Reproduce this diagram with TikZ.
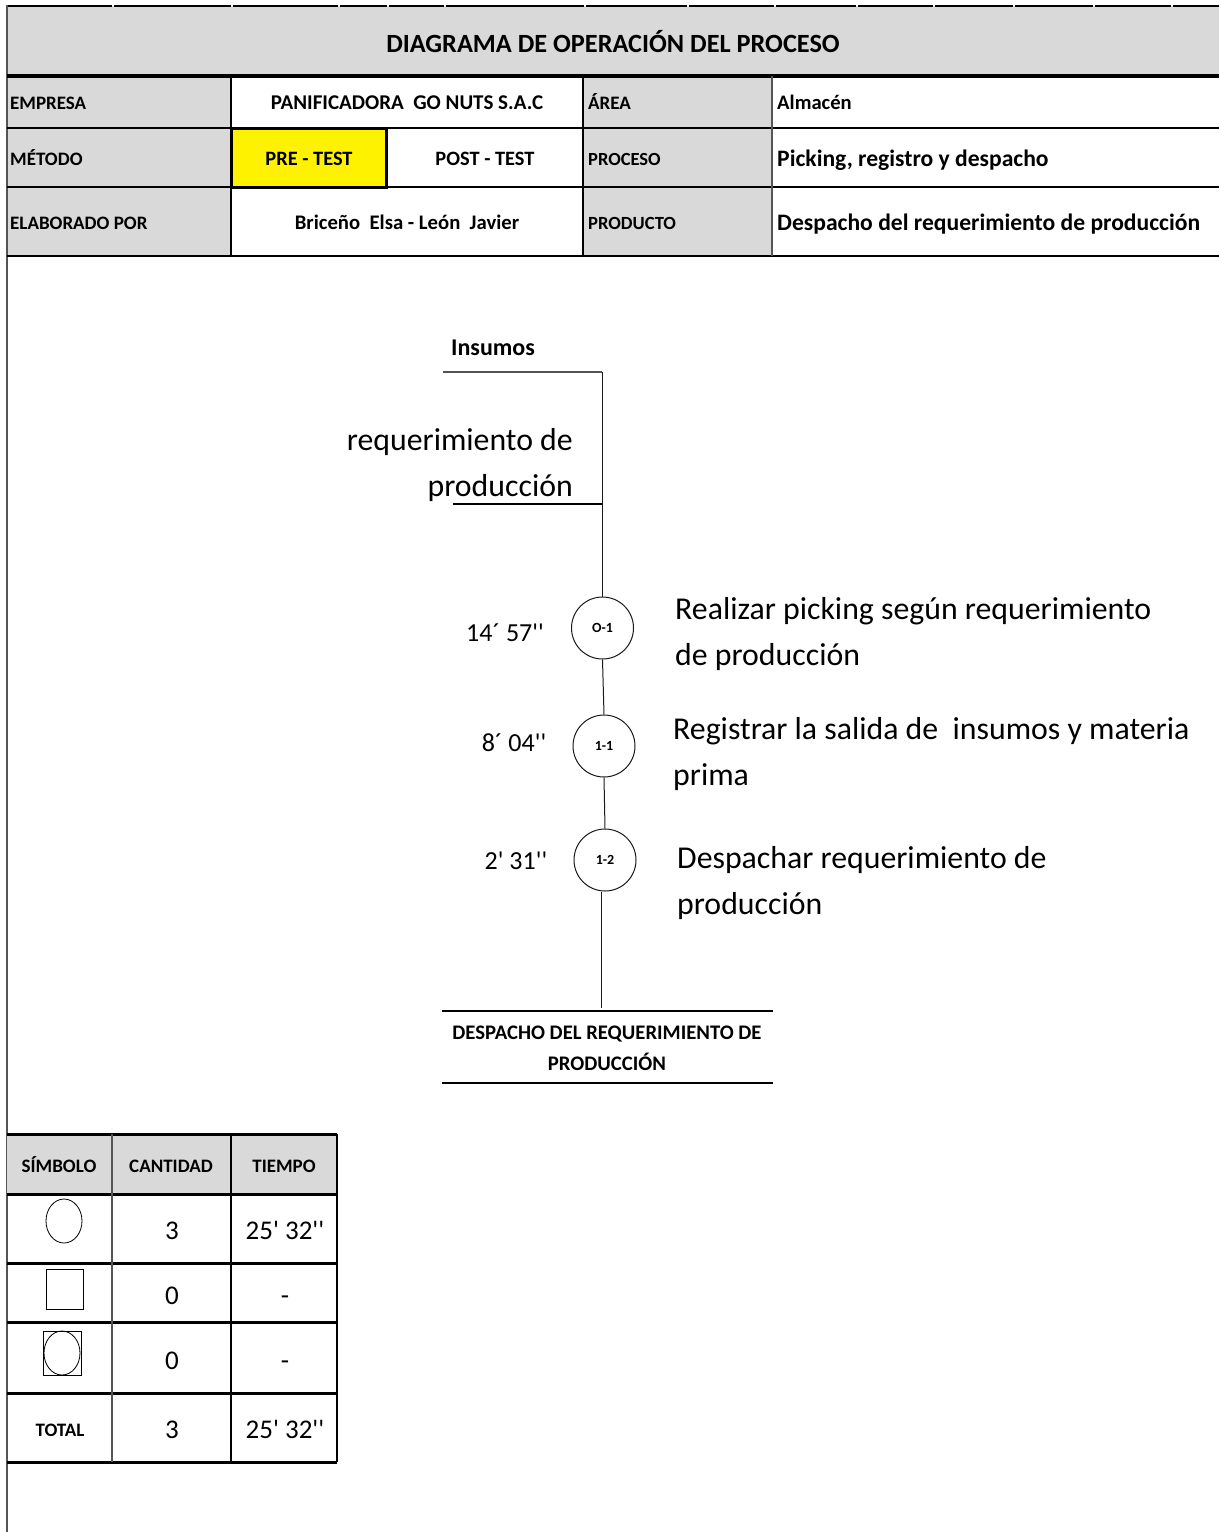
\documentclass[tikz,border=0pt]{standalone}
\usepackage{fontspec}
\setmainfont{Carlito}
% same face without the TeX quote ligatures, so ' stays a straight tick
\newfontfamily\rawcarlito{Carlito}
\definecolor{hdrgray}{HTML}{D9D9D9}
\definecolor{penline}{HTML}{1A1A1A}
\definecolor{softline}{HTML}{555555}
\tikzset{
  sized/.style={font={\fontsize{#1}{#1}\selectfont}},
  boldsized/.style={font={\fontsize{#1}{#1}\selectfont\bfseries}},
  lbl/.style={inner sep=0pt, anchor=base west, boldsized=#1},
  lbl/.default=19,
  val/.style={inner sep=0pt, anchor=base, boldsized=#1},
  val/.default=20.6,
  bigval/.style={inner sep=0pt, anchor=base west, boldsized=23.6},
  flowtxt/.style={inner sep=0pt, sized=31.8},
  timetxt/.style={inner sep=0pt, anchor=base, font={\fontsize{26}{26}\selectfont\rawcarlito}},
  opcircle/.style={circle, draw=penline, line width=1pt, minimum size=62pt, inner sep=0pt,
    boldsized=14},
  flowline/.style={draw=penline, line width=1pt},
  thickrule/.style={line width=3pt, black},
  midrule/.style={line width=2pt, black},
  tabtxt/.style={inner sep=0pt, anchor=base, font={\fontsize{27}{27}\selectfont\rawcarlito}},
  tabhead/.style={inner sep=0pt, anchor=base, boldsized=19},
}
\begin{document}
\begin{tikzpicture}[x=1pt, y=-1pt]
\useasboundingbox (0,0) rectangle (1219,1532);
\fill[white] (0,0) rectangle (1219,1532);

% ---------- header block ----------
\fill[hdrgray] (7,6) rectangle (1219,76);
\fill[hdrgray] (7,76) rectangle (231,256);
\fill[hdrgray] (583,76) rectangle (772,256);
\fill[yellow] (231,128) rectangle (386,187);

% top rule, broken at the cell joints
\foreach \a/\b in {7/112, 114/231, 233/338, 340/387, 389/444, 446/584, 586/687,
                   689/774, 776/856, 858/933, 935/1013, 1015/1093, 1095/1171, 1173/1219}
  \draw[line width=2pt, black] (\a,6) -- (\b,6);

% page border on the left
\draw[line width=1.3pt, softline] (7,5) -- (7,1532);

% horizontal rules of the header
\draw[line width=4pt, black] (7,76) -- (1219,76);
\draw[midrule] (7,128) -- (1219,128);
\draw[midrule] (7,187) -- (1219,187);
\draw[line width=2.5pt, black] (7,256) -- (1219,256);

% vertical rules of the header
\draw[midrule] (231,76) -- (231,256);
\draw[midrule] (583,76) -- (583,256);
\draw[line width=1.3pt, softline] (772,76) -- (772,256);
\draw[line width=3pt, black] (231,128) rectangle (386,187);

% header texts
\node[inner sep=0pt, anchor=base, boldsized=26.3] (title) at (613,52) {DIAGRAMA DE OPERACIÓN DEL PROCESO};

\node[lbl] (empresa) at (10,109) {EMPRESA};
\node[val=21] (empresaV) at (407,109) {PANIFICADORA\ \ GO NUTS S.A.C};
\node[lbl] (area) at (588,109) {ÁREA};
\node[lbl=20.6] (areaV) at (777,109) {Almacén};

\node[lbl] (metodo) at (10,165) {MÉTODO};
\node[val=20.4] (pre) at (309,165) {PRE - TEST};
\node[val=20.4] (post) at (485,165) {POST - TEST};
\node[lbl=18.5] (proceso) at (588,165) {PROCESO};
\node[bigval] (procesoV) at (777,166) {Picking, registro y despacho};

\node[lbl] (elab) at (10,229) {ELABORADO POR};
\node[val=20.7] (elabV) at (407,229) {Briceño\ \ Elsa - León\ \ Javier};
\node[lbl=18.6] (producto) at (588,229) {PRODUCTO};
\node[bigval] (productoV) at (777,230) {Despacho del requerimiento de producción};

% ---------- operation diagram ----------
\node[inner sep=0pt, anchor=base, boldsized=24] (insumos) at (493,355) {Insumos};

\coordinate (inA) at (443,372);
\coordinate (inB) at (602,372);
\coordinate (reqA) at (453,504);
\coordinate (reqB) at (602,504);
\coordinate (endA) at (601,1008);

\node[flowtxt, anchor=base east] (req1) at (573,450) {requerimiento de};
\node[flowtxt, anchor=base east] (req2) at (573,496) {producción};

\node[opcircle] (o1) at (602.5,628) {O-1};
\node[opcircle] (r1) at (604,746) {1-1};
\node[opcircle] (r2) at (605,860) {1-2};

\draw[line width=1.4pt, softline] (inA) -- (inB);
\draw[line width=1.4pt, black] (reqA) -- (reqB);
\draw[flowline] (inB) -- (o1.north -| inB);
\draw[flowline] (o1.south) -- (r1.north);
\draw[flowline] (r1.south) -- (r2.north);
\draw[flowline] (r2.south -| endA) -- (endA);

\node[timetxt] (t1) at (505,641) {14´ 57''};
\node[timetxt] (t2) at (514,751) {8´ 04''};
\node[timetxt] (t3) at (516,869) {2' 31''};

\node[flowtxt, anchor=base west] (d1a) at (675,619) {Realizar picking según requerimiento};
\node[flowtxt, anchor=base west] (d1b) at (675,665) {de producción};
\node[flowtxt, anchor=base west] (d2a) at (673,739) {Registrar la salida de\ \ insumos y materia};
\node[flowtxt, anchor=base west] (d2b) at (673,785) {prima};
\node[flowtxt, anchor=base west] (d3a) at (677,868) {Despachar requerimiento de};
\node[flowtxt, anchor=base west] (d3b) at (677,914) {producción};

\draw[line width=2pt, black] (442,1011) -- (773,1011);
\draw[line width=2pt, black] (442,1083) -- (773,1083);
\node[val=20.7] (fin1) at (607,1039) {DESPACHO DEL REQUERIMIENTO DE};
\node[val=20.7] (fin2) at (607,1070) {PRODUCCIÓN};

% ---------- summary table ----------
\fill[hdrgray] (7,1134) rectangle (337,1194);
\foreach \yy in {1134,1194,1263,1322,1393,1462}
  \draw[thickrule] (7,\yy) -- (337,\yy);
\draw[line width=1.5pt, softline] (112,1134) -- (112,1462);
\draw[line width=2.5pt, black] (231,1134) -- (231,1462);
\draw[line width=2.5pt, black] (337,1134) -- (337,1462);

\node[tabhead] (hs) at (59,1172) {SÍMBOLO};
\node[tabhead] (hc) at (171,1172) {CANTIDAD};
\node[tabhead] (ht) at (284,1172) {TIEMPO};

\draw[line width=0.8pt, black] (64,1221) ellipse [x radius=18, y radius=22];
\draw[line width=0.8pt, black] (46,1269) rectangle (83,1309);
\draw[line width=0.8pt, black] (43,1331) rectangle (81,1375);
\draw[line width=0.8pt, black] (62,1353) ellipse [x radius=18, y radius=22];

\node[tabtxt] (c1) at (172,1239) {3};
\node[tabtxt] (tm1) at (285,1239) {25' 32''};
\node[tabtxt] (c2) at (172,1304) {0};
\node[tabtxt] (tm2) at (285,1304) {-};
\node[tabtxt] (c3) at (172,1369) {0};
\node[tabtxt] (tm3) at (285,1369) {-};
\node[tabhead] (tot) at (60,1436) {TOTAL};
\node[tabtxt] (c4) at (172,1438) {3};
\node[tabtxt] (tm4) at (285,1438) {25' 32''};
\end{tikzpicture}
\end{document}
